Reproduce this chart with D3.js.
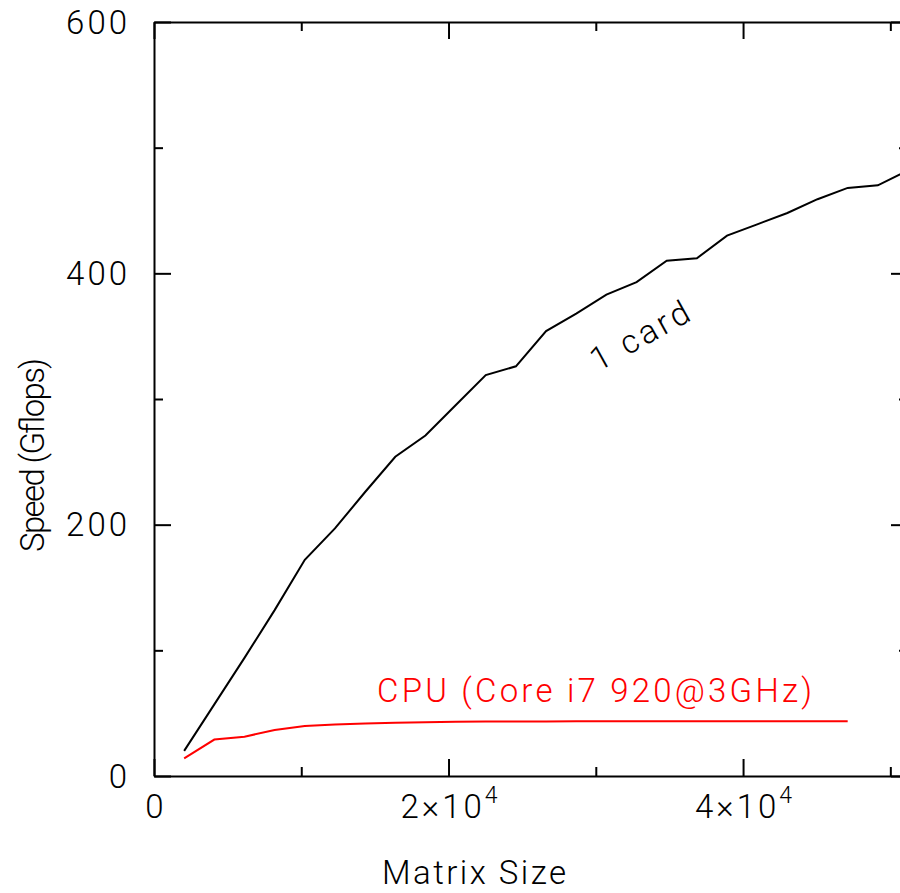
<!DOCTYPE html>
<html>
<head>
<meta charset="utf-8">
<script src="https://cdn.jsdelivr.net/npm/d3@7"></script>
<style>
  body { margin: 0; background: #fff; }
  svg { display: block; }
  text { font-family: "Roboto", "DejaVu Sans", sans-serif; font-weight: 300; }
</style>
</head>
<body>
<svg></svg>
<script>
// matrix sizes (N) for each measurement
const matrixSize = [2048, 4096, 6144, 8192, 10240, 12288, 14336, 16384, 18432, 20480,
  22528, 24576, 26624, 28672, 30720, 32768, 34816, 36864, 38912, 40960,
  43008, 45056, 47104, 49152, 51200];
// speed in Gflops, one Tesla card
const cardGflops = [20, 57, 94, 132, 172, 197, 226, 254, 271, 295,
  319, 326, 354, 368, 383, 393, 410, 412, 430, 439,
  448, 459, 468, 470, 482];
// speed in Gflops, CPU (first 23 sizes only)
const cpuGflops = [14, 29, 31.3, 36.6, 39.8, 41, 41.7, 42.3, 42.8, 43.2,
  43.3, 43.4, 43.4, 43.5, 43.5, 43.5, 43.5, 43.5, 43.5, 43.5,
  43.5, 43.5, 43.5];

const xMajorTicks = [0, 20000, 40000];
const xMinorTicks = [10000, 30000, 50000];
const xTickLabels = ["0", "2×10^4", "4×10^4"];
const yMajorTicks = [0, 200, 400, 600];
const yMinorTicks = [100, 300, 500];
const yTickLabels = ["0", "200", "400", "600"];

let width = 900;
let height = 893;
let padLeft = 154, padRight = 908, padTop = 22, padBottom = 776;

let svg = d3.select("svg").attr("width", width).attr("height", height);

let xScale = d3.scaleLinear().domain([0, 51200]).range([padLeft, padRight]);
let yScale = d3.scaleLinear().domain([0, 600]).range([padBottom, padTop]);

let major = 17;
let minor = 9;
let fs = 33;

let drawAxes = () => {
  let sides = [
    [d3.axisBottom(xScale), `translate(0, ${padBottom})`, xMajorTicks, xMinorTicks],
    [d3.axisTop(xScale), `translate(0, ${padTop})`, xMajorTicks, xMinorTicks],
    [d3.axisLeft(yScale), `translate(${padLeft}, 0)`, yMajorTicks, yMinorTicks],
    [d3.axisRight(yScale), `translate(${padRight}, 0)`, yMajorTicks, yMinorTicks]
  ];
  sides.forEach(([ax, tr, maj, min]) => {
    let g = svg.append("g").attr("transform", tr);
    g.call(ax.tickValues(maj).tickSizeInner(-major).tickSizeOuter(0).tickFormat(""));
    let g2 = svg.append("g").attr("transform", tr);
    g2.call(ax.tickValues(min).tickSizeInner(-minor).tickSizeOuter(0).tickFormat(""));
    g2.select(".domain").remove();
  });
  svg.selectAll("g .domain, g .tick line")
    .attr("stroke", "#000")
    .attr("stroke-width", 2);
};

let drawLabels = () => {
  svg.append("g")
    .selectAll("text")
    .data(yMajorTicks)
    .enter()
    .append("text")
    .attr("x", 130)
    .attr("y", (d) => yScale(d) + 11.5)
    .attr("text-anchor", "end")
    .attr("font-size", fs)
    .attr("letter-spacing", 3)
    .text((d, i) => yTickLabels[i]);

  let xl = svg.append("g")
    .selectAll("text")
    .data(xMajorTicks)
    .enter()
    .append("text")
    .attr("x", (d) => xScale(d) + 2)
    .attr("y", 818)
    .attr("text-anchor", "middle")
    .attr("font-size", fs)
    .attr("letter-spacing", 3);
  xl.each(function (d, i) {
    let parts = xTickLabels[i].split("^");
    let t = d3.select(this);
    t.append("tspan").text(parts[0]);
    if (parts[1]) {
      t.append("tspan").attr("dy", -15).attr("font-size", 23).text(parts[1]);
    }
  });

  svg.append("text")
    .attr("x", 382)
    .attr("y", 884)
    .attr("font-size", fs)
    .attr("textLength", 184)
    .attr("lengthAdjust", "spacing")
    .text("Matrix Size");

  svg.append("text")
    .attr("transform", "translate(44, 552) rotate(-90)")
    .attr("font-size", fs)
    .attr("textLength", 194)
    .attr("lengthAdjust", "spacing")
    .text("Speed (Gflops)");

  svg.append("text")
    .attr("x", 377)
    .attr("y", 702)
    .attr("fill", "#ff0000")
    .attr("font-size", fs)
    .attr("textLength", 435)
    .attr("lengthAdjust", "spacing")
    .text("CPU (Core i7 920@3GHz)");

  svg.append("text")
    .attr("transform", "translate(598, 372) rotate(-29)")
    .attr("font-size", fs)
    .attr("textLength", 108)
    .attr("lengthAdjust", "spacing")
    .text("1 card");
};

let drawLines = () => {
  let line = d3.line()
    .x((d) => xScale(d[0]))
    .y((d) => yScale(d[1]));

  svg.append("path")
    .datum(cardGflops.map((v, i) => [matrixSize[i], v]))
    .attr("d", line)
    .attr("fill", "none")
    .attr("stroke", "#000")
    .attr("stroke-width", 2);

  svg.append("path")
    .datum(cpuGflops.map((v, i) => [matrixSize[i], v]))
    .attr("d", line)
    .attr("fill", "none")
    .attr("stroke", "#ff0000")
    .attr("stroke-width", 2);
};

drawAxes();
drawLines();
drawLabels();
</script>
</body>
</html>
